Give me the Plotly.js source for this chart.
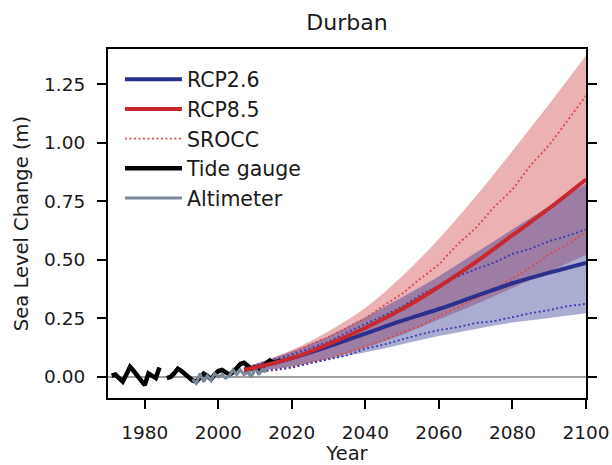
<!DOCTYPE html>
<html>
<head>
<meta charset="utf-8">
<script src="https://cdn.plot.ly/plotly-3.0.1.min.js"></script>
<style>html,body{margin:0;padding:0;background:#fff;}#chart{width:612px;height:465px;}</style>
</head>
<body>
<div id="chart"></div>
<script>
// ---- data ----
var projYears = [2007, 2010, 2020, 2030, 2040, 2050, 2060, 2070, 2080, 2090, 2100];
var rcp26Mid  = [0.03, 0.04, 0.08, 0.13, 0.185, 0.24, 0.29, 0.345, 0.40, 0.445, 0.487];
var rcp26Low  = [0.02, 0.025, 0.045, 0.075, 0.105, 0.14, 0.175, 0.205, 0.232, 0.252, 0.272];
var rcp26High = [0.04, 0.055, 0.11, 0.175, 0.255, 0.34, 0.43, 0.53, 0.63, 0.73, 0.825];
var rcp85Mid  = [0.03, 0.04, 0.08, 0.14, 0.21, 0.29, 0.385, 0.49, 0.605, 0.72, 0.843];
var rcp85Low  = [0.02, 0.025, 0.045, 0.08, 0.125, 0.18, 0.245, 0.31, 0.38, 0.45, 0.52];
var rcp85High = [0.04, 0.055, 0.115, 0.195, 0.295, 0.43, 0.59, 0.77, 0.965, 1.165, 1.372];

var sroccYears = [2007, 2010, 2015, 2020, 2025, 2030, 2035, 2040, 2045, 2050, 2055, 2060, 2065, 2070, 2075, 2080, 2085, 2090, 2095, 2100];
var srocc85High = [0.035, 0.05, 0.078, 0.10, 0.138, 0.17, 0.21, 0.25, 0.305, 0.355, 0.42, 0.48, 0.565, 0.635, 0.725, 0.80, 0.905, 0.99, 1.095, 1.20];
var srocc85Low  = [0.015, 0.02, 0.028, 0.04, 0.062, 0.08, 0.102, 0.13, 0.158, 0.19, 0.218, 0.26, 0.298, 0.335, 0.372, 0.42, 0.468, 0.525, 0.565, 0.62];
var srocc26High = [0.035, 0.05, 0.072, 0.095, 0.122, 0.15, 0.19, 0.225, 0.262, 0.30, 0.35, 0.39, 0.428, 0.46, 0.488, 0.525, 0.548, 0.58, 0.602, 0.63];
var srocc26Low  = [0.015, 0.02, 0.03, 0.04, 0.058, 0.075, 0.092, 0.12, 0.138, 0.16, 0.182, 0.20, 0.212, 0.23, 0.238, 0.255, 0.272, 0.285, 0.302, 0.312];

var tideYears = [1971,1972,1973,1974,1975,1976,1977,1978,1979,1980,1981,1982,1983,1984,1985,
                 1986,1987,1988,1989,1990,1991,1992,1993,1994,1995,1996,1997,1998,1999,2000,
                 2001,2002,2003,2004,2005,2006,2007,2008,2009,2010,2011,2012,2013,2014,2015,2016,2017];
var tideValues = [0.005,0.01,-0.005,-0.02,0.01,0.043,0.025,0.005,-0.01,-0.035,0.015,0.005,-0.005,0.04,null,
                  -0.005,0.0,0.015,0.035,0.025,0.012,0.0,-0.015,-0.02,0.0,0.014,0.005,-0.01,0.01,0.025,
                  0.03,0.02,0.01,0.02,0.035,0.055,0.06,0.045,0.035,0.04,0.03,0.045,0.06,0.07,0.06,0.065,0.07];

var altYears = [1993,1994,1995,1996,1997,1998,1999,2000,2001,2002,2003,2004,2005,2006,2007,2008,2009,2010,2011,2012,2013];
var altValues = [-0.01,-0.028,0.014,-0.02,0.005,-0.014,0.014,0.0,0.01,-0.005,0.005,0.03,0.01,0.03,0.01,0.02,0.0,0.04,0.01,0.035,0.02];

var legendNames = ["RCP2.6", "RCP8.5", "SROCC", "Tide gauge", "Altimeter"];
var yTicks = [0, 0.25, 0.5, 0.75, 1.0, 1.25];
var xTicks = [1980, 2000, 2020, 2040, 2060, 2080, 2100];

// ---- styles ----
var blue = "#2b2f8e", red = "#c8282d";
var dotRed = {color: "#e04848", width: 1.8, dash: "2px,2.5px"};
var dotBlue = {color: "#3a3ab4", width: 1.8, dash: "2px,2.5px"};
var traces = [
  {x: projYears, y: rcp85Low, mode: "lines", line: {width: 0, shape: "spline"}, showlegend: false, hoverinfo: "skip"},
  {x: projYears, y: rcp85High, mode: "lines", line: {width: 0, shape: "spline"}, fill: "tonexty",
   fillcolor: "rgba(200,40,45,0.36)", showlegend: false, hoverinfo: "skip"},
  {x: projYears, y: rcp26Low, mode: "lines", line: {width: 0, shape: "spline"}, showlegend: false, hoverinfo: "skip"},
  {x: projYears, y: rcp26High, mode: "lines", line: {width: 0, shape: "spline"}, fill: "tonexty",
   fillcolor: "rgba(43,47,142,0.40)", showlegend: false, hoverinfo: "skip"},
  {x: sroccYears, y: srocc85High, mode: "lines", name: legendNames[2], legendrank: 3, line: dotRed},
  {x: sroccYears, y: srocc85Low, mode: "lines", showlegend: false, line: dotRed},
  {x: sroccYears, y: srocc26High, mode: "lines", showlegend: false, line: dotBlue},
  {x: sroccYears, y: srocc26Low, mode: "lines", showlegend: false, line: dotBlue},
  {x: tideYears, y: tideValues, mode: "lines", name: legendNames[3], legendrank: 4,
   line: {color: "#000000", width: 4.5}},
  {x: altYears, y: altValues, mode: "lines", name: legendNames[4], legendrank: 5,
   line: {color: "#778899", width: 3}},
  {x: projYears, y: rcp26Mid, mode: "lines", name: legendNames[0], legendrank: 1,
   line: {color: blue, width: 4, shape: "spline"}},
  {x: projYears, y: rcp85Mid, mode: "lines", name: legendNames[1], legendrank: 2,
   line: {color: red, width: 4, shape: "spline"}}
];

var tickFont = {family: "DejaVu Sans", size: 18.5, color: "#1a1a1a"};
var layout = {
  width: 612, height: 465,
  margin: {l: 108, r: 26, t: 49, b: 67, pad: 0},
  paper_bgcolor: "#ffffff", plot_bgcolor: "#ffffff",
  font: {family: "DejaVu Sans", color: "#1a1a1a"},
  title: {text: "Durban", font: {family: "DejaVu Sans", size: 22, color: "#1a1a1a"},
          x: 0.5, xref: "paper", xanchor: "center", y: 0.953, yref: "container", yanchor: "middle"},
  showlegend: true,
  legend: {x: 0.025, y: 0.97, xanchor: "left", yanchor: "top", bgcolor: "rgba(0,0,0,0)",
           borderwidth: 0, font: {family: "DejaVu Sans", size: 20.5, color: "#1a1a1a"},
           itemwidth: 57, traceorder: "normal"},
  xaxis: {range: [1970, 2100], tickvals: xTicks, ticks: "outside", ticklen: 9, tickwidth: 2,
          tickcolor: "#000", showline: true, linewidth: 2, linecolor: "#000", mirror: true,
          showgrid: false, zeroline: false, tickfont: tickFont, ticklabelstandoff: 8,
          title: {text: "Year", font: {family: "DejaVu Sans", size: 19.5, color: "#1a1a1a"}, standoff: 15}},
  yaxis: {range: [-0.09, 1.4], tickvals: yTicks, tickformat: ".2f", ticks: "outside", ticklen: 9, tickwidth: 2,
          tickcolor: "#000", showline: true, linewidth: 2, linecolor: "#000", mirror: "ticks",
          showgrid: false, zeroline: true, zerolinecolor: "#a0a0a0", zerolinewidth: 1.8,
          tickfont: tickFont, ticklabelstandoff: 8,
          title: {text: "Sea Level Change (m)", font: {family: "DejaVu Sans", size: 19.5, color: "#1a1a1a"}, standoff: 10}}
};

Plotly.newPlot("chart", traces, layout, {staticPlot: true, displayModeBar: false});
</script>
</body>
</html>
